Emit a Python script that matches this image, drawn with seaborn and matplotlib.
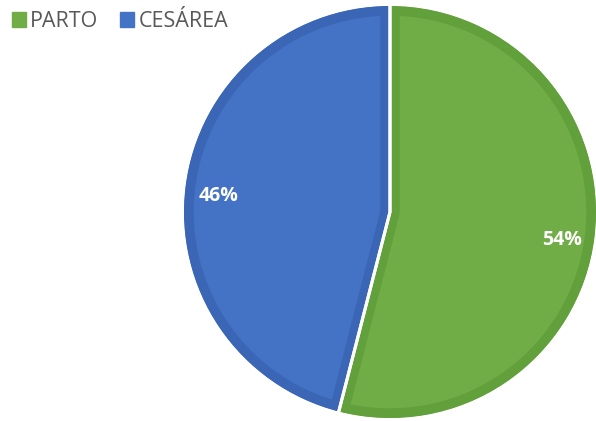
import matplotlib
matplotlib.use("Agg")
import matplotlib.pyplot as plt
from matplotlib.patches import Patch
import seaborn as sns

categories = ["PARTO", "CESÁREA"]
values = [54, 46]
face_colors = ["#70AD47", "#4472C4"]
edge_colors = ["#62A03C", "#3B66B6"]

sns.set_theme(style="white")
plt.rcParams["font.family"] = ["Open Sans", "DejaVu Sans"]

fig = plt.figure(figsize=(5.96, 4.21), dpi=100)
cx, cy, r = 390, 212, 206
ax = fig.add_axes([(cx - r) / 596, (421 - cy - r) / 421, 2 * r / 596, 2 * r / 421])

wedges, texts, autotexts = ax.pie(values, colors=face_colors, startangle=90, counterclock=False,
                                  autopct="%1.0f%%", pctdistance=0.84,
                                  textprops=dict(color="white", fontsize=14, fontweight="bold"))
# inner darker border on each slice (stroke clipped to the slice itself)
for w, ec in zip(wedges, edge_colors):
    w.set_edgecolor(ec)
    w.set_linewidth(14)
    w.set_clip_path(w)
    w.set_clip_on(True)
# white separators
ax.pie(values, colors=["none", "none"], startangle=90, counterclock=False, radius=1.02,
       wedgeprops=dict(edgecolor="white", linewidth=2.2, fill=False))
for t in autotexts:
    t.set_zorder(5)
    x, y = t.get_position()
    t.set_position((x, y - 0.03))
ax.set_xlim(-1, 1)
ax.set_ylim(-1, 1)
ax.set_aspect("equal")
ax.axis("off")

handles = [Patch(facecolor=c, edgecolor=c) for c in face_colors]
fig.legend(handles, categories, loc="upper left", bbox_to_anchor=(12 / 596, 1 - 11 / 421), ncol=2, frameon=False,
           handlelength=0.65, handleheight=0.65, handletextpad=0.2, columnspacing=1.0,
           prop=dict(size=15.5), labelcolor="#595959", borderaxespad=0, borderpad=0)

fig.savefig("out.png", dpi=100)
